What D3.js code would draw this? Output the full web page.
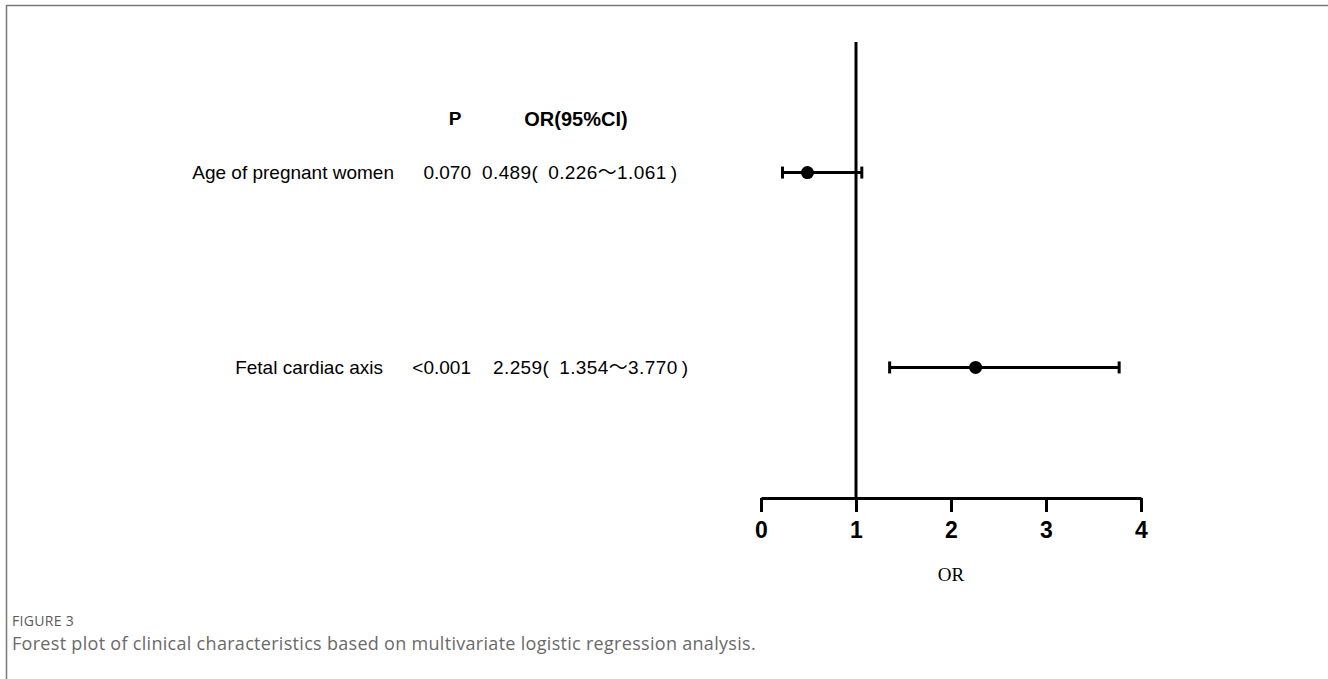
<!DOCTYPE html>
<html>
<head>
<meta charset="utf-8">
<script src="https://cdn.jsdelivr.net/npm/d3@7"></script>
<style>
  html, body { margin: 0; padding: 0; background: #fff; }
  svg { display: block; }
</style>
</head>
<body>
<div id="chart"></div>
<script>
// data
const labels = ["Age of pregnant women", "Fetal cardiac axis"];
const pValues = ["0.070", "<0.001"];
const orValues = [0.489, 2.259];
const ciLower = [0.226, 1.354];
const ciUpper = [1.061, 3.770];
const orText = ["0.489(\u20020.226～1.061\u2009)", "2.259(\u20021.354～3.770\u2009)"];
const xTicks = [0, 1, 2, 3, 4];

const width = 1328, height = 679;
const rows = labels.map((d, i) => ({
  label: d, p: pValues[i], or: orValues[i], lo: ciLower[i], hi: ciUpper[i], txt: orText[i]
}));

const svg = d3.select('#chart').append('svg')
  .attr('width', width)
  .attr('height', height);

// page frame (top + left rule)
svg.append('path')
  .attr('d', `M6.5,${height}V5.5H${width}`)
  .attr('fill', 'none')
  .attr('stroke', '#7a7a7a')
  .attr('stroke-width', 1.5);

const x = d3.scaleLinear().domain([0, 4]).range([761, 1141]);
const y = d3.scalePoint().domain(labels).range([42, 498]).padding(0.67);
const axisY = 498;

const ink = '#000';
const textFont = '"Liberation Sans", Arial, "Noto Sans CJK SC", sans-serif';

// reference line at OR = 1
svg.append('line')
  .attr('x1', x(1)).attr('x2', x(1))
  .attr('y1', 42).attr('y2', axisY)
  .attr('stroke', ink).attr('stroke-width', 3);

// x axis
const axis = svg.append('g')
  .attr('transform', `translate(0,${axisY})`)
  .call(d3.axisBottom(x).tickValues(xTicks).tickSize(14).tickSizeOuter(0).tickPadding(10).tickFormat(d3.format('d')));
axis.select('.domain').attr('stroke', ink).attr('stroke-width', 3);
axis.selectAll('.tick line').attr('stroke', ink).attr('stroke-width', 3);
axis.selectAll('.tick text')
  .attr('fill', ink)
  .style('font-family', textFont)
  .style('font-size', '23px')
  .style('font-weight', 'bold');

svg.append('text')
  .attr('x', x(2))
  .attr('y', 581)
  .attr('text-anchor', 'middle')
  .style('font-family', '"Liberation Serif", "DejaVu Serif", serif')
  .style('font-size', '19px')
  .text('OR');

// error bars
const bars = svg.append('g')
  .selectAll('g')
  .data(rows)
  .join('g')
  .attr('transform', d => `translate(0,${y(d.label)})`);

bars.append('line')
  .attr('x1', d => x(d.lo)).attr('x2', d => x(d.hi))
  .attr('stroke', ink).attr('stroke-width', 3);
bars.selectAll('.cap')
  .data(d => [d.lo, d.hi])
  .join('line')
  .attr('class', 'cap')
  .attr('x1', d => x(d)).attr('x2', d => x(d))
  .attr('y1', -6).attr('y2', 6)
  .attr('stroke', ink).attr('stroke-width', 3);
bars.append('circle')
  .attr('cx', d => x(d.or))
  .attr('r', 6.5)
  .attr('fill', ink);

// table columns on the left
const table = svg.append('g')
  .style('font-family', textFont)
  .style('font-size', '19px')
  .attr('fill', ink);

const headerY = y(labels[0]) - 54;
table.append('text')
  .attr('x', 455).attr('y', headerY).attr('dy', '0.35em')
  .attr('text-anchor', 'middle')
  .style('font-weight', 'bold')
  .text('P');
table.append('text')
  .attr('x', 576).attr('y', headerY).attr('dy', '0.35em')
  .attr('text-anchor', 'middle')
  .style('font-weight', 'bold')
  .style('font-size', '20px')
  .text('OR(95%CI)');

const labelEnd = [394, 383];
const orStart = [482, 493];

table.selectAll('.lab')
  .data(rows)
  .join('text')
  .attr('class', 'lab')
  .attr('x', (d, i) => labelEnd[i])
  .attr('y', d => y(d.label)).attr('dy', '0.35em')
  .attr('text-anchor', 'end')
  .text(d => d.label);

table.selectAll('.pv')
  .data(rows)
  .join('text')
  .attr('class', 'pv')
  .attr('x', 471)
  .attr('y', d => y(d.label)).attr('dy', '0.35em')
  .attr('text-anchor', 'end')
  .text(d => d.p);

table.selectAll('.ci')
  .data(rows)
  .join('text')
  .attr('class', 'ci')
  .attr('x', (d, i) => orStart[i])
  .attr('y', d => y(d.label)).attr('dy', '0.35em')
  .style('letter-spacing', '0.4px')
  .text(d => d.txt);

// caption
svg.append('text')
  .attr('x', 12).attr('y', 626)
  .attr('fill', '#5a5a5a')
  .style('font-family', '"Open Sans", "Noto Sans", sans-serif')
  .style('font-size', '14px')
  .style('letter-spacing', '0.3px')
  .text('FIGURE 3');
svg.append('text')
  .attr('x', 12).attr('y', 650)
  .attr('fill', '#6a6a6a')
  .style('font-family', '"Open Sans", "Noto Sans", sans-serif')
  .style('font-size', '18px')
  .style('letter-spacing', '0.3px')
  .text('Forest plot of clinical characteristics based on multivariate logistic regression analysis.');
</script>
</body>
</html>
